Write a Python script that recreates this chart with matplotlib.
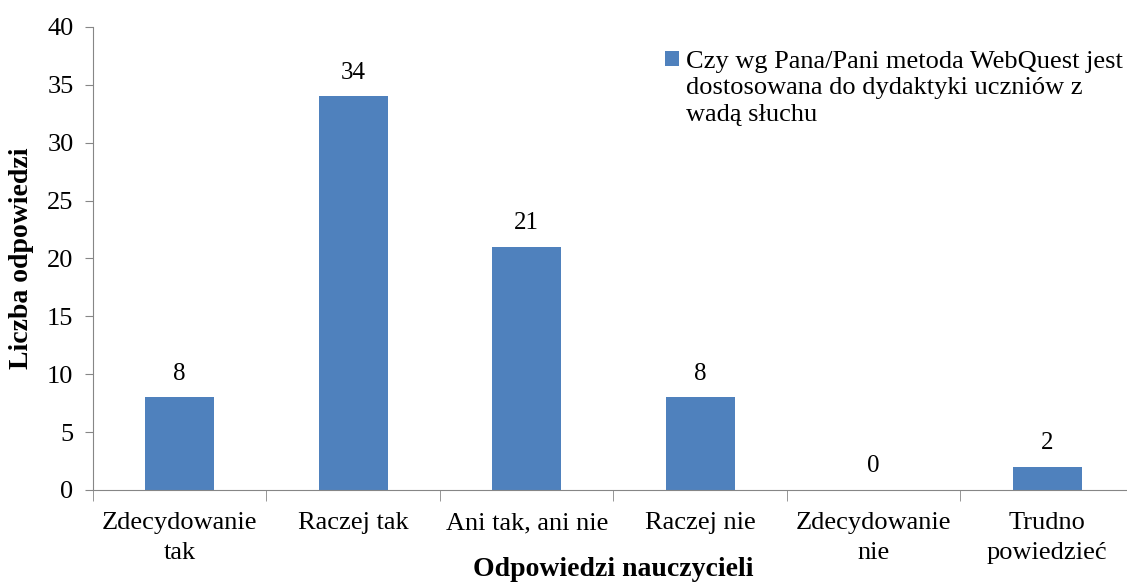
import matplotlib.pyplot as plt
import numpy as np

categories = ['Zdecydowanie\ntak', 'Raczej tak', 'Ani tak, ani nie', 'Raczej nie',
              'Zdecydowanie\nnie', 'Trudno\npowiedzieć']
values = [8, 34, 21, 8, 0, 2]
series_name = 'Czy wg Pana/Pani metoda WebQuest jest\ndostosowana do dydaktyki uczniów z\nwadą słuchu'

plt.rcParams['font.family'] = ['Liberation Serif', 'DejaVu Serif']
plt.rcParams['font.size'] = 19

fig = plt.figure(figsize=(11.27, 5.84), dpi=100)
ax = fig.add_axes([0.0825, 0.161, 0.9237, 0.793])

x = np.arange(len(categories))
ax.bar(x, values, width=0.4, color='#4F81BD', label=series_name)
for xi, v in zip(x, values):
    ax.annotate(str(v), (xi, v), xytext=(0, 9), textcoords='offset points',
                ha='center', va='bottom', fontsize=18)

ax.set_xlim(-0.5, len(categories) - 0.5)
ax.set_ylim(0, 40)
ax.set_yticks(range(0, 41, 5))
ax.set_xticks(x)
ax.set_xticklabels(categories, linespacing=1.45)
ax.set_xticks(np.arange(-0.5, len(categories)), minor=True)
ax.tick_params(axis='x', which='major', length=0, pad=16)
ax.tick_params(axis='x', which='minor', length=8, color='#868686')
ax.tick_params(axis='y', length=6, color='#868686', pad=8, labelsize=19)

for s in ['top', 'right']:
    ax.spines[s].set_visible(False)
for s in ['left', 'bottom']:
    ax.spines[s].set_color('#868686')

ax.set_ylabel('Liczba odpowiedzi', fontweight='bold', fontsize=20)
ax.yaxis.set_label_coords(-0.069, 0.5)
ax.yaxis.label.set_va('center')
ax.set_xlabel('Odpowiedzi nauczycieli', fontweight='bold', fontsize=20)
ax.xaxis.set_label_coords(0.5, -0.172)
ax.xaxis.label.set_va('center')

leg = fig.legend(loc='upper left', bbox_to_anchor=(0.590, 0.913), frameon=False,
                 handlelength=0.53, handleheight=0.53, handletextpad=0.25,
                 fontsize=19, borderpad=0, borderaxespad=0)
for t in leg.get_texts():
    t.set_linespacing(1.27)
# put the legend square next to the first line, not the middle of the block
for col in leg._legend_handle_box.get_children():
    for item in col.get_children():
        item.align = 'top'

fig.savefig('out.png', dpi=100)
